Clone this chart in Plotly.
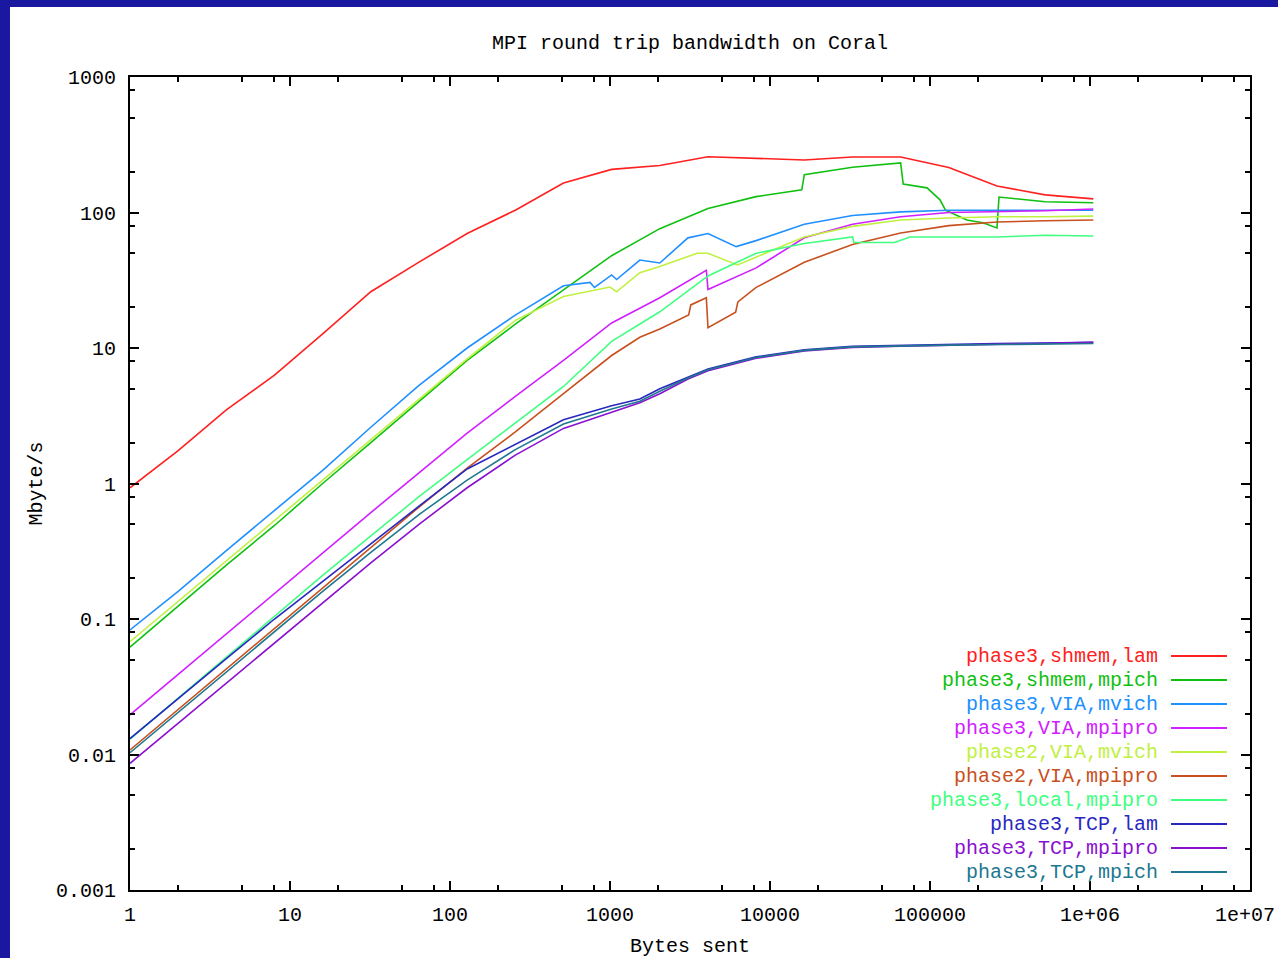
import plotly.graph_objects as go

# ---------------- data ----------------
base_x = [1, 2, 4, 8, 16, 32, 64, 128, 256, 512, 1024, 2048, 4096, 8192,
          16384, 32768, 65536, 131072, 262144, 524288, 1048576]

shmem_lam_x = base_x
shmem_lam_y = [0.93, 1.75, 3.5, 6.3, 12.7, 26, 43, 70, 104, 165, 208, 222, 258,
               250, 244, 257, 257, 215, 157, 135, 126]

shmem_mpich_x = [1, 2, 4, 8, 16, 32, 64, 128, 256, 512, 1024, 2048, 4096, 8192,
                 15800, 16384, 32768, 65536, 68000, 95800, 115500, 125000,
                 170000, 214000, 262144, 270000, 524288, 1048576]
shmem_mpich_y = [0.062, 0.124, 0.25, 0.49, 1.0, 2.0, 4.0, 8.1, 15, 27, 48, 76,
                 107, 131, 147, 190, 216, 232, 162, 152, 124, 104, 88, 84, 77,
                 130, 120, 118]

via_mvich_x = [1, 2, 4, 8, 16, 32, 64, 128, 256, 512, 750, 800, 1024, 1100,
               1536, 2048, 3072, 4096, 6144, 8192, 16384, 32768, 65536, 131072,
               262144, 524288, 1048576]
via_mvich_y = [0.083, 0.16, 0.32, 0.63, 1.25, 2.6, 5.3, 10, 17.5, 28.8, 30.5,
               28, 34.6, 32, 44.6, 42.4, 65, 70, 56, 62, 82, 95, 101, 104, 104,
               104, 104]

via_mpipro_x = [1, 2, 4, 8, 16, 32, 64, 128, 256, 512, 1024, 2048, 4000, 4096,
                8192, 16384, 32768, 65536, 131072, 262144, 524288, 1048576]
via_mpipro_y = [0.0196, 0.039, 0.078, 0.155, 0.31, 0.61, 1.2, 2.35, 4.4, 8.1,
                15.3, 23.5, 37.5, 27, 39, 65, 82, 93, 100, 101, 103, 106]

p2_mvich_x = [1, 2, 4, 8, 16, 32, 64, 128, 256, 512, 1000, 1100, 1536, 2048,
              3500, 4096, 6260, 8192, 16384, 32768, 65536, 131072, 262144,
              524288, 1048576]
p2_mvich_y = [0.068, 0.135, 0.27, 0.53, 1.05, 2.1, 4.2, 8.3, 16, 24, 28.2, 26,
              36, 40, 50, 50, 41, 47, 66, 79, 88, 91, 93, 93, 94]

p2_mpipro_x = [1, 2, 4, 8, 16, 32, 64, 128, 256, 512, 1024, 1536, 2048, 3100,
               3200, 4000, 4096, 6100, 6300, 8192, 16384, 32768, 65536, 131072,
               262144, 524288, 1048576]
p2_mpipro_y = [0.0108, 0.0215, 0.043, 0.086, 0.17, 0.34, 0.67, 1.3, 2.4, 4.6,
               8.8, 12, 13.8, 17.5, 20.8, 23.5, 14.1, 18.4, 21.9, 28, 43, 58,
               70.6, 80, 85, 87, 88]

local_mpipro_x = [1, 2, 4, 8, 16, 32, 64, 128, 256, 512, 1024, 2048, 4096, 8192,
                  16384, 32768, 33500, 60000, 75000, 131072, 262144, 524288,
                  1048576]
local_mpipro_y = [0.013, 0.026, 0.052, 0.104, 0.21, 0.41, 0.8, 1.5, 2.8, 5.2,
                  11.2, 18.5, 34, 50, 59, 66, 60, 60, 66, 66, 66, 68, 67]

tcp_x = [1, 2, 4, 8, 16, 32, 64, 128, 256, 512, 1024, 1536, 2048, 3072, 4096,
         8192, 16384, 32768, 65536, 131072, 262144, 524288, 1048576]
tcp_lam_y = [0.0131, 0.026, 0.051, 0.1, 0.19, 0.36, 0.68, 1.28, 1.95, 2.95,
             3.75, 4.2, 5.0, 6.1, 7.0, 8.6, 9.7, 10.3, 10.5, 10.6, 10.8, 10.9,
             11.0]
tcp_mpipro_y = [0.0086, 0.017, 0.034, 0.067, 0.132, 0.26, 0.5, 0.93, 1.62,
                2.55, 3.35, 3.95, 4.6, 5.9, 6.8, 8.4, 9.5, 10.1, 10.3, 10.5,
                10.7, 10.9, 11.0]
tcp_mpich_y = [0.0103, 0.0205, 0.041, 0.081, 0.16, 0.31, 0.59, 1.06, 1.78,
               2.75, 3.55, 4.05, 4.8, 6.0, 6.9, 8.5, 9.6, 10.2, 10.4, 10.5,
               10.6, 10.7, 10.8]

names = ["phase3,shmem,lam", "phase3,shmem,mpich", "phase3,VIA,mvich",
         "phase3,VIA,mpipro", "phase2,VIA,mvich", "phase2,VIA,mpipro",
         "phase3,local,mpipro", "phase3,TCP,lam", "phase3,TCP,mpipro",
         "phase3,TCP,mpich"]
colors = ["#ff2020", "#10c010", "#2090ff", "#d020ff", "#c0f040", "#c8501e",
          "#40ff80", "#2828c0", "#8a10d0", "#207890"]
xs = [shmem_lam_x, shmem_mpich_x, via_mvich_x, via_mpipro_x, p2_mvich_x,
      p2_mpipro_x, local_mpipro_x, tcp_x, tcp_x, tcp_x]
ys = [shmem_lam_y, shmem_mpich_y, via_mvich_y, via_mpipro_y, p2_mvich_y,
      p2_mpipro_y, local_mpipro_y, tcp_lam_y, tcp_mpipro_y, tcp_mpich_y]

x_tickvals = [1, 10, 100, 1000, 10000, 100000, 1e6, 1e7]
x_ticktext = ["1", "10", "100", "1000", "10000", "100000", "1e+06", "1e+07"]
y_tickvals = [0.001, 0.01, 0.1, 1, 10, 100, 1000]
y_ticktext = ["0.001", "0.01", "0.1", "1", "10", "100", "1000"]

# ---------------- figure ----------------
FONT = "Liberation Mono, DejaVu Sans Mono, monospace"
FS = 20
W, H = 1278, 958
L, R, T, B = 130, 28, 77, 68
PW, PH = W - L - R, H - T - B

fig = go.Figure()
for n, c, x, y in zip(names, colors, xs, ys):
    fig.add_trace(go.Scatter(x=x, y=y, mode="lines", name=n,
                             line=dict(color=c, width=1.6), showlegend=False))

def minor_vals(lo, hi):
    vals = []
    e = lo
    while e < hi:
        for m in (2, 5, 8):
            vals.append(m * 10.0 ** e)
        e += 1
    return vals

axis_common = dict(type="log", showgrid=False, zeroline=False,
                   showline=True, linecolor="black", linewidth=2,
                   mirror="allticks", ticks="inside", ticklen=9,
                   tickwidth=1.5, tickcolor="black", automargin=False,
                   ticklabeloverflow="allow",
                   tickfont=dict(family=FONT, size=FS, color="black"))

# last x label sits at the page edge; it is drawn right-aligned below
x_ticktext_shown = x_ticktext[:-1] + [""]

fig.update_xaxes(range=[0, 7], tickmode="array", tickvals=x_tickvals,
                 ticktext=x_ticktext_shown, ticklabelstandoff=5,
                 minor=dict(tickmode="array", tickvals=minor_vals(0, 7),
                            ticklen=5, ticks="inside", tickcolor="black",
                            tickwidth=1.5),
                 title=dict(text="Bytes sent", standoff=29,
                            font=dict(family=FONT, size=FS, color="black")),
                 **axis_common)
fig.update_yaxes(range=[-3, 3], tickmode="array", tickvals=y_tickvals,
                 ticktext=y_ticktext, ticklabelstandoff=8,
                 minor=dict(tickmode="array", tickvals=minor_vals(-3, 3),
                            ticklen=5, ticks="inside", tickcolor="black",
                            tickwidth=1.5),
                 title=dict(text="Mbyte/s", standoff=8,
                            font=dict(family=FONT, size=FS, color="black")),
                 **axis_common)

fig.add_annotation(xref="paper", yref="paper", x=(W - 1 - L) / PW,
                   y=-(915 - (H - B)) / PH, text=x_ticktext[-1],
                   showarrow=False, xanchor="right", yanchor="middle",
                   font=dict(family=FONT, size=FS, color="black"))

# white sheet over dark-blue frame
fig.add_shape(type="rect", xref="paper", yref="paper", layer="below",
              x0=(10 - L) / PW, x1=1.2, y0=-0.3, y1=(H - B - 7) / PH,
              fillcolor="white", line=dict(width=0))

# gnuplot-style key: right-aligned coloured text, line sample on the right
for i, (n, c) in enumerate(zip(names, colors)):
    py = 656 + 24 * i
    yp = (H - B - py) / PH
    fig.add_annotation(xref="paper", yref="paper", x=(1157 - L) / PW, y=yp,
                       text=n, showarrow=False, xanchor="right",
                       yanchor="middle", xshift=3,
                       font=dict(family=FONT, size=FS, color=c))
    fig.add_shape(type="line", xref="paper", yref="paper",
                  x0=(1171 - L) / PW, x1=(1227 - L) / PW, y0=yp, y1=yp,
                  line=dict(color=c, width=1.8))

fig.update_layout(
    width=W, height=H,
    margin=dict(l=L, r=R, t=T, b=B),
    paper_bgcolor="#1a18a0", plot_bgcolor="white",
    title=dict(text="MPI round trip bandwidth on Coral", x=(L + PW / 2) / W,
               xanchor="center", y=1 - 42 / H, yanchor="middle",
               font=dict(family=FONT, size=FS, color="black")),
    showlegend=False,
)

fig.write_html("out.html", config={"displayModeBar": False},
               post_script="document.body.style.margin='0';"
                           "document.body.style.overflow='hidden';")
